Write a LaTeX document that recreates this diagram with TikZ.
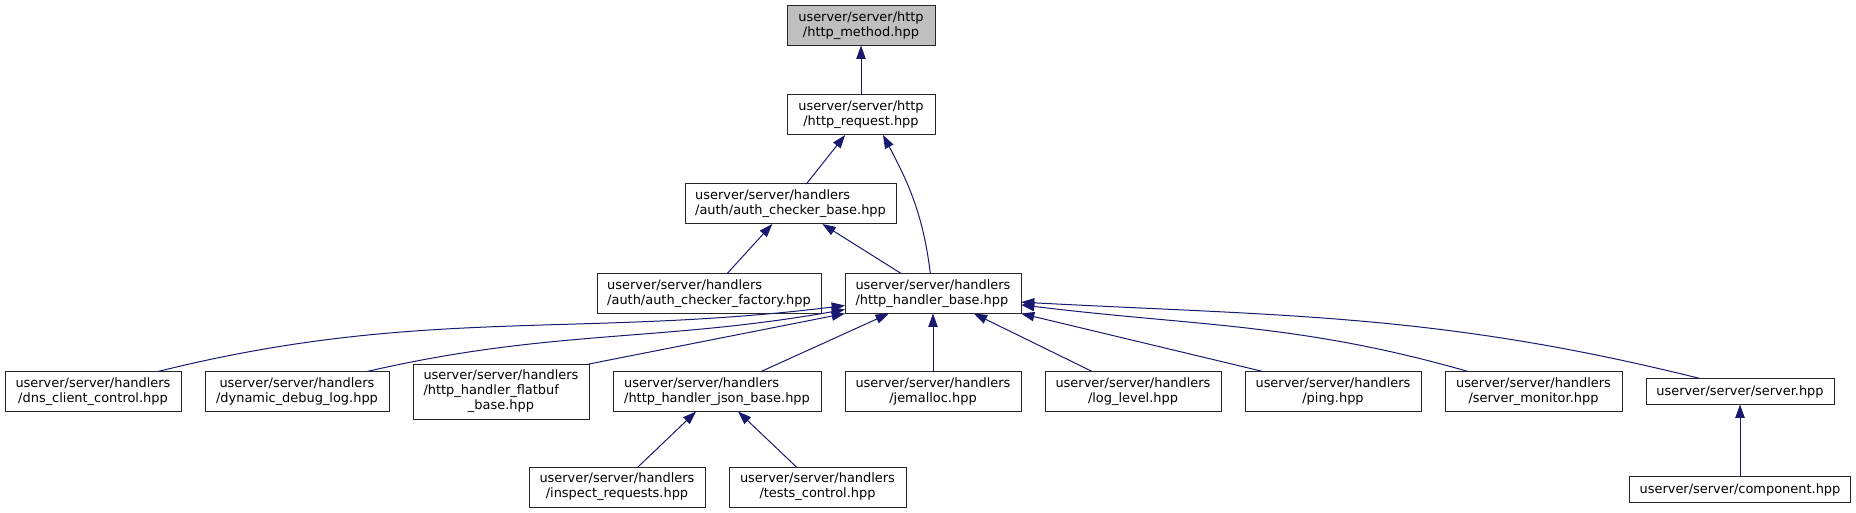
\documentclass[tikz,border=0pt]{standalone}
\usepackage{fontspec}
\setmainfont{DejaVu Sans}
\usetikzlibrary{arrows.meta, positioning}
\definecolor{edgeblue}{HTML}{191970}
\definecolor{focusgray}{HTML}{BFBFBF}
\tikzset{
  file/.style={
    rectangle, draw=black!85, line width=0.75pt,
    fill=white, minimum width=132pt, minimum height=30pt,
    inner xsep=2pt, inner ysep=2pt, outer sep=0pt,
    align=center, font=\fontsize{9.7}{11.25}\selectfont,
  },
  oneline/.style={minimum height=19.5pt},
  threeline/.style={minimum height=41.25pt},
  focus/.style={fill=focusgray},
  dep/.style={-{Triangle[length=10pt, width=7pt]}, line width=0.75pt, color=edgeblue},
}

\begin{document}
\begin{tikzpicture}[x=0.75pt, y=0.75pt, node distance=18pt]

  \fill[white] (0,0) rectangle (1856,-513);
  \useasboundingbox (0,0) rectangle (1856,-513);

  % top of the include graph
  \node[file, focus, minimum width=111pt] (method) at (861,-25.5) {userver/server/http\\/http\_method.hpp};
  \node[file, minimum width=111pt] (req) at (861,-115) {userver/server/http\\/http\_request.hpp};
  \node[file, align=left, minimum width=158.25pt] (abase) at (790.5,-204) {userver/server/handlers\\/auth/auth\_checker\_base.hpp};
  \node[file, align=left] (hbase) at (933,-293.5) {userver/server/handlers\\/http\_handler\_base.hpp};
  \node[file, align=left, minimum width=168pt, left=of hbase] (factory) {userver/server/handlers\\/auth/auth\_checker\_factory.hpp};

  % handlers row
  \node[file, below=43.5pt of hbase] (jemalloc) {userver/server/handlers\\/jemalloc.hpp};
  \node[file, align=left, minimum width=156pt, left=of jemalloc] (jsonbase) {userver/server/handlers\\/http\_handler\_json\_base.hpp};
  \node[file, threeline, left=of jsonbase] (flatbuf) {\begin{tabular}{@{}l@{}}userver/server/handlers\\/http\_handler\_flatbuf\\\multicolumn{1}{@{}c@{}}{\_base.hpp}\end{tabular}};
  \node[file, minimum width=138pt, left=of flatbuf] (dynlog) {userver/server/handlers\\/dynamic\_debug\_log.hpp};
  \node[file, left=of dynlog] (dns) {userver/server/handlers\\/dns\_client\_control.hpp};
  \node[file, right=of jemalloc] (loglevel) {userver/server/handlers\\/log\_level.hpp};
  \node[file, right=of loglevel] (ping) {userver/server/handlers\\/ping.hpp};
  \node[file, minimum width=132.75pt, right=of ping] (monitor) {userver/server/handlers\\/server\_monitor.hpp};
  \node[file, oneline, minimum width=141pt, right=of monitor] (server) {userver/server/server.hpp};

  % bottom row
  \node[file] (inspect) at (617,-487) {userver/server/handlers\\/inspect\_requests.hpp};
  \node[file, minimum width=132.75pt, right=of inspect] (tests) {userver/server/handlers\\/tests\_control.hpp};
  \node[file, oneline, minimum width=165.75pt, below=54pt of server] (component) {userver/server/component.hpp};

  \draw[dep] (req) -- (method);
  \draw[dep] (abase) -- (req);
  \draw[dep] ([xshift=-2pt]hbase.north) to[out=97, in=-62] ([xshift=16.5pt]req.south);
  \draw[dep] (factory) -- (abase);
  \draw[dep] (hbase) -- (abase);
  \draw[dep] ([xshift=48.75pt]dns.north) to[out=14, in=187] ([yshift=-9pt]hbase.west);
  \draw[dep] ([xshift=52.5pt]dynlog.north) to[out=13, in=190] ([yshift=-12pt]hbase.west);
  \draw[dep] (flatbuf.north east) -- (hbase.south west);
  \draw[dep] (jsonbase) -- (hbase);
  \draw[dep] (jemalloc) -- (hbase);
  \draw[dep] (loglevel) -- (hbase);
  \draw[dep] ([xshift=-52.5pt]ping.north) -- (hbase.south east);
  \draw[dep] ([xshift=-49pt]monitor.north) to[out=164, in=-7] ([yshift=-8.5pt]hbase.east);
  \draw[dep] ([xshift=-30pt]server.north) to[out=166, in=-3] ([yshift=-6.5pt]hbase.east);
  \draw[dep] (inspect) -- (jsonbase);
  \draw[dep] (tests) -- (jsonbase);
  \draw[dep] (component) -- (server);

\end{tikzpicture}
\end{document}
